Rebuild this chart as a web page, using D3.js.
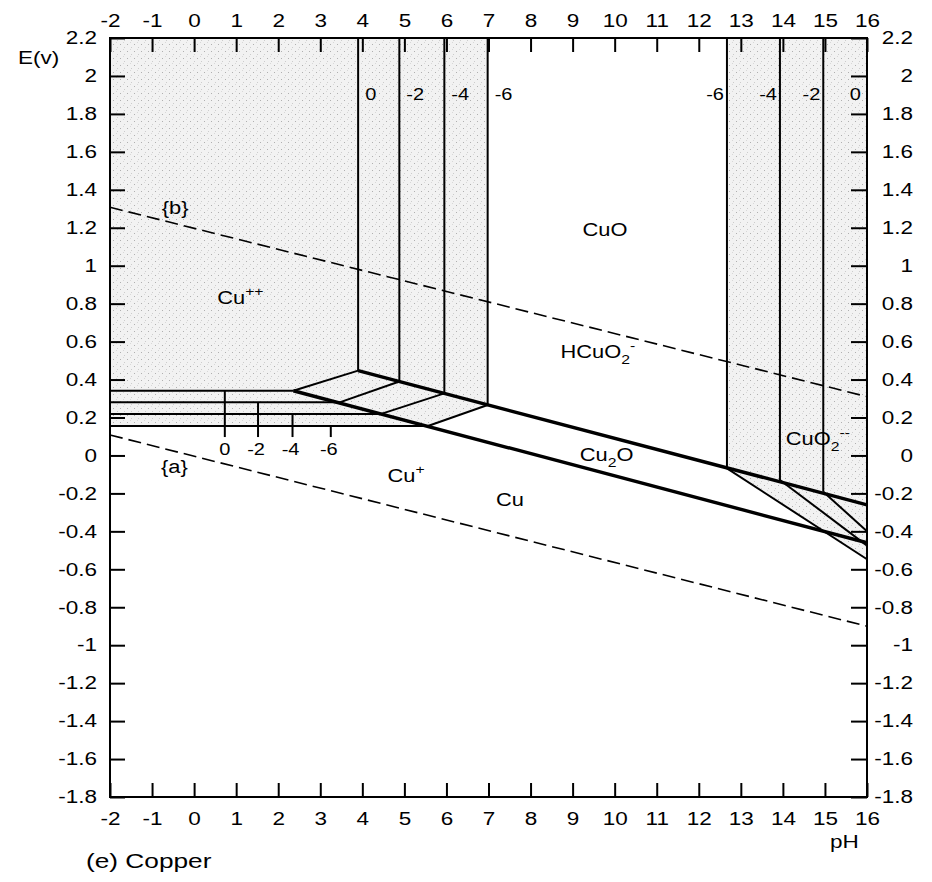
<!DOCTYPE html>
<html>
<head>
<meta charset="utf-8">
<script src="https://cdn.jsdelivr.net/npm/d3@7"></script>
<style>
  body { margin: 0; background: #fff; }
  svg { display: block; font-family: "Liberation Sans", Arial, sans-serif; }
</style>
</head>
<body>
<svg id="chart"></svg>
<script>
// Axis ticks
const phTicks = [-2, -1, 0, 1, 2, 3, 4, 5, 6, 7, 8, 9, 10, 11, 12, 13, 14, 15, 16];
const eTicks = [2.2, 2, 1.8, 1.6, 1.4, 1.2, 1, 0.8, 0.6, 0.4, 0.2, 0, -0.2, -0.4, -0.6, -0.8, -1, -1.2, -1.4, -1.6, -1.8];

// log of dissolved copper activity for each family of lines
const logConc = ["0", "-2", "-4", "-6"];

// Cu++ / Cu (horizontal) lines: E, and pH where they meet the Cu / Cu2O line
const cuCuE = [0.341, 0.280, 0.219, 0.155];
const cuCuEndPh = [2.36, 3.46, 4.45, 5.56];
// label markers hanging under the horizontals
const markerPh = [0.73, 1.52, 2.34, 3.25];
const markerFootE = 0.097;

// Cu++ / CuO verticals (pH) and E at their foot on the Cu2O / CuO line
const cuCuOPh = [3.9, 4.88, 5.95, 6.98];
const cuCuOFootE = [0.447, 0.390, 0.327, 0.266];

// HCuO2- / CuO2-- verticals, left to right (-6, -4, -2, 0)
const cuO2Conc = ["-6", "-4", "-2", "0"];
const cuO2Ph = [12.67, 13.93, 14.96, 16];
const cuO2FootE = [-0.068, -0.129, -0.191, -0.26];
// slanted CuO2-- / Cu2O lines, E where they reach pH 16
const cuO2EndE = [-0.547, -0.475, -0.40];

// thick boundaries
const cu2oCuoPh = [3.9, 16], cu2oCuoE = [0.447, -0.26];
const cuCu2oPh = [2.36, 16], cuCu2oE = [0.341, -0.46];

// water stability lines {b} and {a}
const waterPh = [-2, 16];
const waterBE = [1.308, 0.310];
const waterAE = [0.108, -0.90];

const width = 932, height = 882;
const SX = 1.25; // the scanned type is wide
const svg = d3.select("#chart").attr("width", width).attr("height", height);

const x = d3.scaleLinear().domain([-2, 16]).range([110, 867]);
const y = d3.scaleLinear().domain([-1.8, 2.2]).range([797, 38]);
const line = d3.line().x(d => x(d[0])).y(d => y(d[1]));

// stippled fill
const pat = svg.append("defs").append("pattern")
    .attr("id", "stipple").attr("patternUnits", "userSpaceOnUse")
    .attr("width", 7).attr("height", 7);
pat.append("rect").attr("width", 7).attr("height", 7).attr("fill", "#f2f2f2");
pat.append("rect").attr("x", 1).attr("y", 2).attr("width", 1).attr("height", 1).attr("fill", "#b0b0b0");
pat.append("rect").attr("x", 5).attr("y", 5).attr("width", 1).attr("height", 1).attr("fill", "#cccccc");
pat.append("rect").attr("x", 4).attr("y", 0).attr("width", 1).attr("height", 1).attr("fill", "#d8d8d8");

const shadeLeft = [[-2, 2.2], [cuCuOPh[3], 2.2], [cuCuOPh[3], cuCuOFootE[3]], [cuCuEndPh[3], cuCuE[3]], [-2, cuCuE[3]]];
const shadeRight = [[cuO2Ph[0], 2.2], [16, 2.2], [16, cuO2EndE[0]], [cuO2Ph[0], cuO2FootE[0]]];
svg.append("g").selectAll("path").data([shadeLeft, shadeRight]).join("path")
    .attr("d", d => line(d) + "Z")
    .attr("fill", "url(#stipple)");

// water lines
svg.append("g").selectAll("path").data([waterBE, waterAE]).join("path")
    .attr("d", e => line([[waterPh[0], e[0]], [waterPh[1], e[1]]]))
    .attr("fill", "none").attr("stroke", "#000").attr("stroke-width", 1.6)
    .attr("stroke-dasharray", "13,6");

const thin = svg.append("g").attr("fill", "none").attr("stroke", "#000").attr("stroke-width", 2);

// Cu++ / Cu horizontals
thin.selectAll(".h").data(cuCuE).join("path").attr("class", "h")
    .attr("d", (e, i) => line([[-2, e], [cuCuEndPh[i], e]]));
// markers under them
thin.selectAll(".m").data(markerPh).join("path").attr("class", "m")
    .attr("d", (p, i) => line([[p, cuCuE[i]], [p, markerFootE]]));
// Cu++ / Cu2O slanted lines
thin.selectAll(".s").data(cuCuE).join("path").attr("class", "s")
    .attr("d", (e, i) => line([[cuCuEndPh[i], e], [cuCuOPh[i], cuCuOFootE[i]]]));
// Cu++ / CuO verticals
thin.selectAll(".v").data(cuCuOPh).join("path").attr("class", "v")
    .attr("d", (p, i) => line([[p, cuCuOFootE[i]], [p, 2.2]]));
// HCuO2- / CuO2-- verticals
thin.selectAll(".r").data(cuO2Ph).join("path").attr("class", "r")
    .attr("d", (p, i) => line([[p, cuO2FootE[i]], [p, 2.2]]));
// CuO2-- slanted lines
thin.selectAll(".d").data(cuO2EndE).join("path").attr("class", "d")
    .attr("d", (e, i) => line([[cuO2Ph[i], cuO2FootE[i]], [16, e]]));

// thick boundaries
svg.append("g").selectAll("path")
    .data([[cu2oCuoPh, cu2oCuoE], [cuCu2oPh, cuCu2oE]]).join("path")
    .attr("d", ([p, e]) => line([[p[0], e[0]], [p[1], e[1]]]))
    .attr("fill", "none").attr("stroke", "#000").attr("stroke-width", 3.4);

// axes
const fmt = d => String(+d.toFixed(1));
function styleAxis(g, anchor) {
    g.attr("font-size", 18).attr("font-family", null);
    g.select(".domain").remove();
    g.selectAll(".tick line").attr("stroke", "#000").attr("stroke-width", 2);
    g.selectAll(".tick text").attr("fill", "#000").each(function () {
        const t = d3.select(this);
        if (anchor) t.attr("text-anchor", anchor);
        t.attr("x", (+t.attr("x") || 0) / SX).attr("transform", `scale(${SX},1)`);
    });
}
svg.append("g").attr("transform", `translate(${x(-2)},0)`)
    .call(d3.axisLeft(y).tickValues(eTicks).tickFormat(fmt).tickSize(-15).tickPadding(13))
    .call(g => styleAxis(g));
svg.append("g").attr("transform", `translate(${x(16)},0)`)
    .call(d3.axisRight(y).tickValues(eTicks).tickFormat(fmt).tickSize(-16).tickPadding(46))
    .call(g => styleAxis(g, "end"));
svg.append("g").attr("transform", `translate(0,${y(2.2)})`)
    .call(d3.axisTop(x).tickValues(phTicks).tickFormat(fmt).tickSize(-14).tickPadding(11))
    .call(g => styleAxis(g));
svg.append("g").attr("transform", `translate(0,${y(-1.8)})`)
    .call(d3.axisBottom(x).tickValues(phTicks).tickFormat(fmt).tickSize(-14).tickPadding(15))
    .call(g => styleAxis(g));

// frame
svg.append("rect")
    .attr("x", x(-2)).attr("y", y(2.2))
    .attr("width", x(16) - x(-2)).attr("height", y(-1.8) - y(2.2))
    .attr("fill", "none").attr("stroke", "#000").attr("stroke-width", 2);

// text helper: parts are [string, "sub"|"sup"|undefined]
function addText(px, py, size, anchor, parts, sx = SX) {
    const t = svg.append("text")
        .attr("transform", `translate(${px},${py}) scale(${sx},1)`)
        .attr("font-size", size).attr("text-anchor", anchor).attr("fill", "#000");
    let off = 0;
    parts.forEach(([s, kind]) => {
        const target = kind === "sub" ? size * 0.3 : kind === "sup" ? -size * 0.42 : 0;
        t.append("tspan").attr("dy", target - off)
            .attr("font-size", kind ? size * 0.72 : size).text(s);
        off = target;
    });
}

// concentration labels
cuCuOPh.forEach((p, i) => addText(x(p) + 7, y(1.873), 16, "start", [[logConc[i]]]));
cuO2Ph.forEach((p, i) => addText(x(p) - (i === 3 ? 6 : 3), y(1.873), 16, "end", [[cuO2Conc[i]]]));
markerPh.forEach((p, i) => addText(x(p) - (i ? 2 : 0), y(0), 16, "middle", [[logConc[i]]]));

// region labels
const regionLabels = [
    { parts: [["Cu"], ["++", "sup"]], ph: 1.1, e: 0.80, anchor: "middle" },
    { parts: [["CuO"]], ph: 9.77, e: 1.157, anchor: "middle" },
    { parts: [["HCuO"], ["2", "sub"], ["-", "sup"]], ph: 9.6, e: 0.514, anchor: "middle" },
    { parts: [["Cu"], ["2", "sub"], ["O"]], ph: 9.81, e: -0.03, anchor: "middle" },
    { parts: [["Cu"], ["+", "sup"]], ph: 5.04, e: -0.14, anchor: "middle" },
    { parts: [["Cu"]], ph: 7.51, e: -0.266, anchor: "middle" },
    { parts: [["CuO"], ["2", "sub"], ["--", "sup"]], ph: 14.07, e: 0.055, anchor: "start" },
    { parts: [["{b}"]], ph: -0.45, e: 1.272, anchor: "middle" },
    { parts: [["{a}"]], ph: -0.47, e: -0.09, anchor: "middle" }
];
regionLabels.forEach(d => addText(x(d.ph), y(d.e), 19, d.anchor, d.parts, 1.15));

// axis titles and caption
addText(18, 64, 18, "start", [["E(v)"]]);
addText(830, 848, 18, "start", [["pH"]]);
addText(86, 868, 21, "start", [["(e) Copper"]]);
</script>
</body>
</html>
